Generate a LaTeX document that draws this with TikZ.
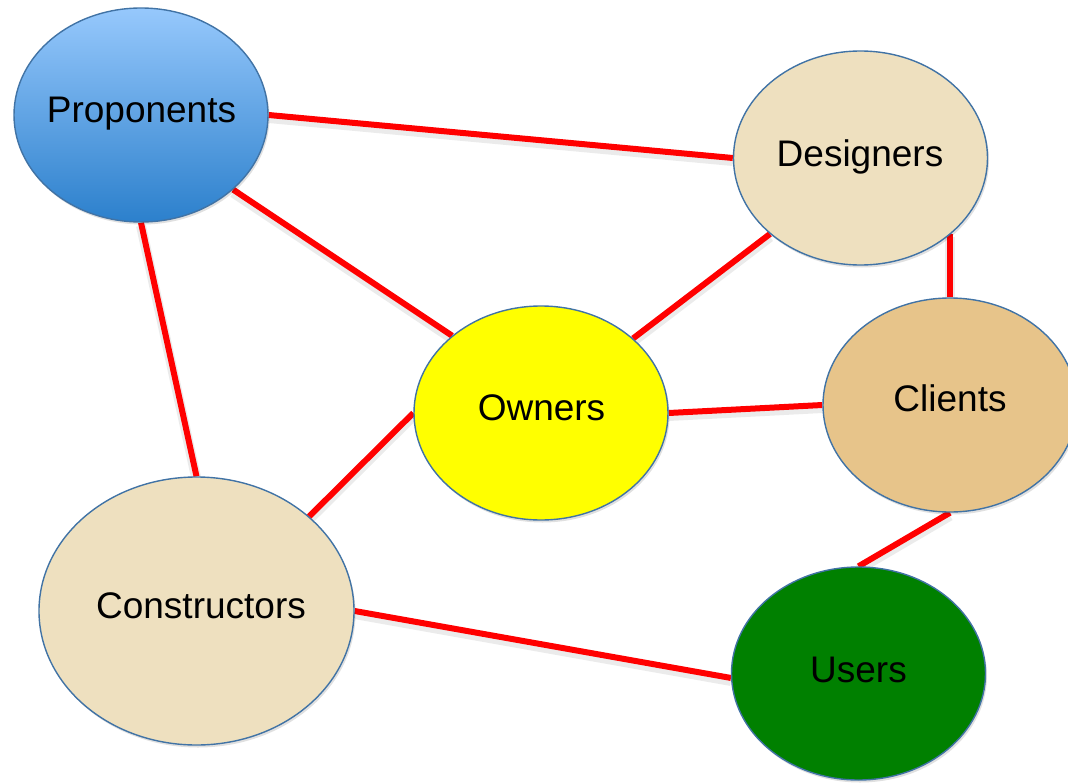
\documentclass[tikz,border=0pt]{standalone}
\usepackage{fontspec}
\setmainfont{Liberation Sans}
\usetikzlibrary{shapes.geometric,backgrounds,shadows}
\definecolor{propTop}{RGB}{150,200,252}
\definecolor{propBot}{RGB}{44,128,204}
\definecolor{tanA}{RGB}{238,224,191}
\definecolor{tanB}{RGB}{231,196,138}
\definecolor{ownY}{RGB}{255,255,0}
\definecolor{usrG}{RGB}{0,128,0}
\definecolor{rim}{RGB}{65,115,165}
\definecolor{link}{RGB}{255,0,0}
\tikzset{
  bub/.style={ellipse, draw=rim, line width=1.4pt, inner sep=0pt,
    minimum width=254pt, minimum height=214pt,
    drop shadow={shadow xshift=1.5pt, shadow yshift=-2.5pt, fill=black, opacity=0.12}},
  lbl/.style={anchor=base, inner sep=0pt, font=\fontsize{37}{41}\selectfont},
  edge/.style={draw=link, line width=6pt,
    preaction={draw=black, opacity=0.08, line width=10pt, transform canvas={yshift=-3pt}}}
}
\begin{document}
\begin{tikzpicture}[x=1pt,y=-1pt]
\useasboundingbox (0,0) rectangle (1068,784);
% bubbles
\node[bub, top color=propTop, bottom color=propBot] (p) at (141,115) {};
\node[bub, fill=tanA] (d) at (860.5,158) {};
\node[bub, fill=ownY] (o) at (541,413) {};
\node[bub, fill=tanB] (cl) at (950,405) {};
\node[bub, fill=tanA, minimum width=315pt, minimum height=268pt] (co) at (196.5,611) {};
\node[bub, fill=usrG, minimum height=213pt] (u) at (858.5,673.5) {};
% labels
\node[lbl] (pt) at (141.5,122) {Proponents};
\node[lbl] (dt) at (860,166) {Designers};
\node[lbl] (ot) at (541.5,420) {Owners};
\node[lbl] (clt) at (950,411) {Clients};
\node[lbl] (cot) at (201,618) {Constructors};
\node[lbl] (ut) at (858.5,682) {Users};
% connectors
\begin{scope}[on background layer]
\draw[edge] (p.0) -- (d.180);
\draw[edge] (p.-39.5) -- (o.139.5);
\draw[edge] (p.-90) -- (co.90);
\draw[edge] (d.-140) -- (o.39.5);
\draw[edge] (cl.north |- d.-40) -- (cl.north);
\draw[edge] (o.0) -- (cl.180);
\draw[edge] (o.180) -- (co.40);
\draw[edge] (cl.south) -- (u.north);
\draw[edge] (co.0) -- (u.182);
\end{scope}
\end{tikzpicture}
\end{document}
